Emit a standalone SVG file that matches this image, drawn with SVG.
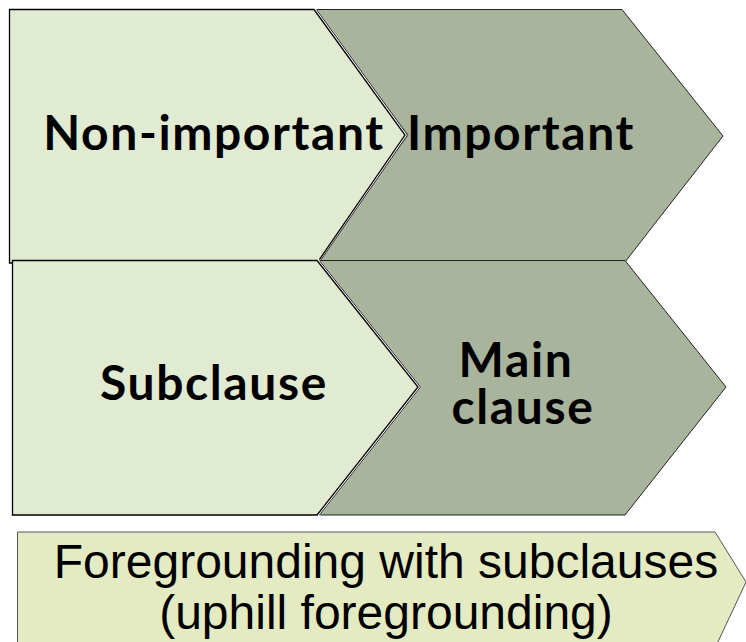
<svg xmlns="http://www.w3.org/2000/svg" width="746" height="642" viewBox="0 0 746 642">
  <style>
    .light { fill: #e0ebd1; stroke: #000; stroke-width: 1.3; }
    .dark { fill: #a8b59c; stroke: #222; stroke-width: 1; }
    .gap { fill: none; stroke: #fff; stroke-width: 5; stroke-linejoin: miter; }
    .notch { fill: none; stroke: #222; stroke-width: 1; }
    .banner { fill: #e4eac1; stroke: #555; stroke-width: 1; }
    .lbl { font-family: Lato, "Noto Sans", "DejaVu Sans", sans-serif; font-weight: bold; font-size: 48px; letter-spacing: 1.6px; fill: #000; text-anchor: middle; }
    .cap { font-family: "Liberation Sans", Arial, sans-serif; font-size: 48px; fill: #000; text-anchor: middle; }
  </style>

  <!-- top row: dark chevron -->
  <g id="important">
    <polygon class="dark" points="314,9.5 622,9.5 723,136 625,262 317,262 408,135"/>
    <polyline class="gap" points="314,9.5 405,135 317,262"/>
    <polyline class="notch" points="316.5,9.5 407.5,135 319.5,262"/>
    <text class="lbl" x="521" y="150">Important</text>
  </g>

  <!-- top row: light pentagon -->
  <g id="non-important">
    <polygon class="light" points="9.5,9.5 314,9.5 405,135 317,263 9.5,263"/>
    <text class="lbl" x="214" y="150">Non-important</text>
  </g>

  <!-- bottom row: dark chevron -->
  <g id="main-clause">
    <polygon class="dark" points="317,260.5 625,260.5 726,387 625,515 317,515 420,387"/>
    <polyline class="gap" points="317,260.5 418,387 317,515"/>
    <polyline class="notch" points="319.5,260.5 420.5,387 319.5,515"/>
    <text class="lbl" x="516" y="377">Main</text>
    <text class="lbl" x="523" y="424">clause</text>
  </g>

  <!-- bottom row: light pentagon -->
  <g id="subclause">
    <polygon class="light" points="12.5,260.5 317,260.5 418,387 317,515 12.5,515"/>
    <text class="lbl" x="214" y="400">Subclause</text>
  </g>

  <!-- caption banner -->
  <g id="caption">
    <polygon class="banner" points="17.5,532 715,532 746,582 716,646 17.5,646"/>
    <text class="cap" x="386" y="578">Foregrounding with subclauses</text>
    <text class="cap" x="386" y="629">(uphill foregrounding)</text>
  </g>

  <g id="connectors"></g>
</svg>
